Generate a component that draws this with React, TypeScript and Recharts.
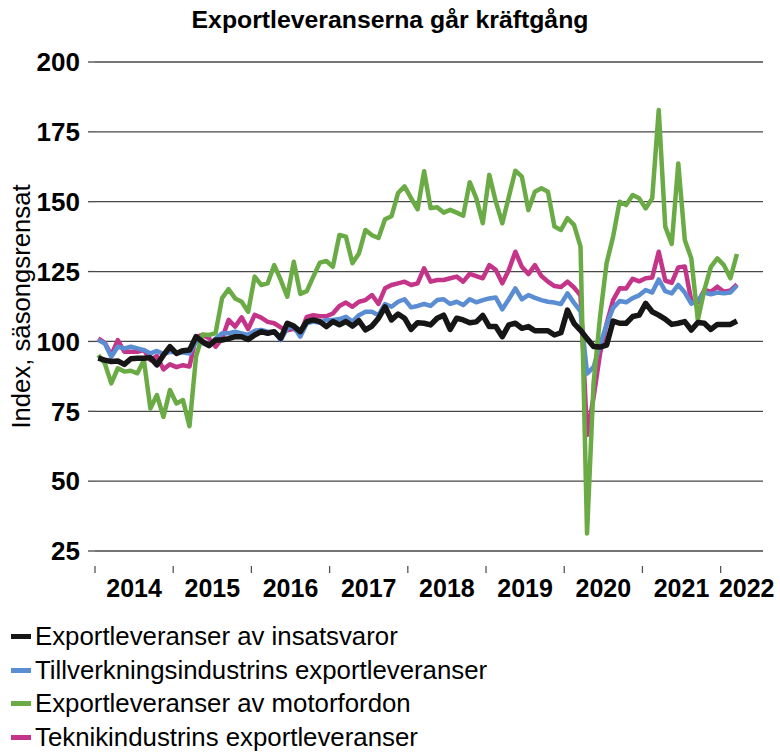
import React from 'react';
import { LineChart, Line, XAxis, YAxis, CartesianGrid, Label } from 'recharts';

const FONT = "'Liberation Sans', Arial, Helvetica, sans-serif";

const chartTitle = 'Exportleveranserna går kräftgång';
const yAxisTitle = 'Index, säsongsrensat';
const yearLabels = ['2014', '2015', '2016', '2017', '2018', '2019', '2020', '2021', '2022'];
const yTicks = [25, 50, 75, 100, 125, 150, 175, 200];

// Monthly values, Jan 2014 – Mar 2022
const insatsvaror = [
  94, 93.3, 92.8, 93, 91.8, 93.8, 94, 94, 94.2, 91.6,
  95.1, 98.1, 95.7, 96.7, 96.9, 101.7, 99.9, 98.5, 100.5, 100.5,
  101, 101.7, 101.7, 100.7, 102.3, 103.5, 102.9, 103.5, 101.1, 106.5,
  105.5, 103.5, 107.1, 107.7, 107.1, 105.3, 107.1, 106, 107.1, 105.5,
  107.4, 104.1, 105.5, 108.3, 112.4, 107.7, 109.8, 108.3, 104.3, 106.7,
  106.5, 105.9, 108.3, 109.4, 104.3, 108.3, 107.7, 106.7, 107, 109.3,
  105.3, 105.3, 101.7, 105.9, 106.5, 104.7, 105.3, 103.8, 103.8, 103.8,
  102.3, 103.1, 111.2, 106.5, 104, 101, 98.2, 98, 98.7, 107.3,
  106.5, 106.5, 108.9, 109.4, 113.6, 110.6, 109.4, 108, 106.1, 106.5,
  107.1, 104.1, 106.8, 106.5, 104.3, 106.1, 106.1, 106.1, 107.3,
];

const tillverkning = [
  100.5, 99.3, 94.5, 98.1, 97.5, 98.1, 97.5, 96.9, 95.7, 96.6,
  95.5, 96.3, 96, 96, 95.7, 99.9, 99.3, 98.5, 101, 102.9,
  102.9, 103.5, 102.9, 102.3, 103.8, 104.1, 103.5, 103.5, 100.5, 104.7,
  105.3, 101.7, 106.5, 107.1, 106.7, 107.7, 107.7, 108, 108.8, 107.1,
  109.4, 110.6, 110.6, 109.4, 113.4, 112.4, 114.2, 115.1, 112.2, 112.7,
  113.4, 112.7, 114.8, 115.1, 113.4, 114.2, 113, 115.1, 114, 114.8,
  115.4, 115.7, 111.5, 115.1, 119, 115.1, 116.6, 115.6, 114.8, 114.2,
  113.9, 113.4, 117.2, 113.8, 110.8, 88.5, 90.8, 98.8, 106, 112,
  114.5, 114, 115.5, 116.5, 118.4, 117.5, 122.2, 118, 117.2, 120.2,
  117.5, 113.5, 114.7, 117.5, 116.9, 117.5, 117.2, 117.5, 120,
];

const motorfordon = [
  95.1, 92.2, 85, 90.4, 89.2, 89.5, 88.6, 93.3, 76, 80.8,
  73, 82.6, 77.8, 79, 69.7, 94.5, 102.5, 102.3, 103, 115.5,
  118.7, 115.4, 114.2, 110.6, 123.2, 120.2, 120.8, 127.3, 122, 116,
  128.5, 117, 118, 123.2, 128.2, 128.8, 126.7, 138.1, 137.5, 128,
  131.5, 139.9, 138, 137, 143.7, 144.8, 153.1, 155.5, 151.3, 147.3,
  160.9, 147.7, 148, 146.1, 147.1, 146.1, 145, 157, 151.3, 142.3,
  159.6, 150, 142.3, 151.8, 161.1, 159, 147, 153.6, 154.8, 153.6,
  141.1, 139.9, 144.1, 141.7, 133.9, 31.3, 85, 108.8, 128, 137.5,
  150, 148.8, 152.4, 151.2, 147.6, 151.2, 182.8, 141.1, 134.9, 163.7,
  136.3, 129.7, 107.7, 118.4, 126.7, 129.7, 127.3, 122.6, 131.3,
];

const teknik = [
  101.1, 99.5, 95.1, 100.5, 96.3, 96.3, 96.3, 96.9, 93.3, 94.8,
  90, 91.8, 90.8, 91.5, 91, 101.7, 102.3, 101.1, 98.1, 101,
  107.7, 105.3, 108.6, 104.4, 109.5, 108.5, 107, 106.5, 105, 104,
  104.5, 103, 108.8, 109.4, 109, 109, 110, 112.7, 113.9, 112.4,
  114.2, 114.8, 116.6, 113.4, 119, 120.2, 120.8, 121.4, 120.2, 120.8,
  126.2, 121.4, 122, 122, 122.6, 123.2, 121.4, 124.2, 123.4, 122.6,
  127.3, 125.6, 120.8, 125.6, 132.1, 126.7, 124.1, 127.3, 123.4, 121.4,
  119.8, 119.5, 121.4, 119.3, 116.5, 66.5, 80, 95.7, 106.3, 114.8,
  119, 118.9, 122.4, 121.5, 122.6, 122.9, 132.1, 121.8, 121, 126.5,
  126.8, 114.5, 114, 118.4, 117.8, 119.6, 117.8, 118.2, 120.4,
];

const seriesDefs = [
  { key: 'insatsvaror', name: 'Exportleveranser av insatsvaror', color: '#161616', width: 5.5, values: insatsvaror },
  { key: 'tillverkning', name: 'Tillverkningsindustrins exportleveranser', color: '#5b8dd3', width: 4.5, values: tillverkning },
  { key: 'motorfordon', name: 'Exportleveranser av motorfordon', color: '#6aab46', width: 4.5, values: motorfordon },
  { key: 'teknik', name: 'Teknikindustrins exportleveranser', color: '#c4358a', width: 4.5, values: teknik },
];
// drawing order (last on top)
const drawOrder = ['teknik', 'tillverkning', 'motorfordon', 'insatsvaror'];

const X_MAX = 102.5; // months shown on the axis
const yearTicks = yearLabels.map((_, k) => k * 12);

const data = insatsvaror.map((_, i) => {
  const row: Record<string, number | string> = {
    t: i + 0.5,
    month: `${2014 + Math.floor(i / 12)}-${String((i % 12) + 1).padStart(2, '0')}`,
  };
  seriesDefs.forEach((s) => {
    row[s.key] = s.values[i];
  });
  return row;
});

const CHART_W = 780;
const CHART_H = 754;
const MARGIN = { top: 62, right: 17, bottom: 143, left: 0 };
const Y_AXIS_W = 95;
const X_AXIS_H = 60;
const PLOT_W = CHART_W - MARGIN.left - MARGIN.right - Y_AXIS_W;
const MONTH_PX = PLOT_W / X_MAX;

function YearTick(props: any) {
  const { x, y, payload } = props;
  const k = Math.round(payload.value / 12);
  const half = k === yearLabels.length - 1 ? 4 : 6;
  return (
    <g>
      <line x1={x} x2={x} y1={y + 15} y2={y + 22} stroke="#555" strokeWidth={1.3} />
      <text
        x={x + half * MONTH_PX}
        y={y + 37}
        textAnchor="middle"
        dominantBaseline="central"
        fontSize={25}
        fontWeight="bold"
        fill="#000"
        fontFamily={FONT}
      >
        {yearLabels[k]}
      </text>
    </g>
  );
}

function YTitle(props: any) {
  const vb = props.viewBox || { x: 0, y: 62, width: 95, height: 489 };
  const cx = vb.x + 21;
  const cy = vb.y + vb.height / 2;
  return (
    <text
      x={cx}
      y={cy}
      transform={`rotate(-90 ${cx} ${cy})`}
      textAnchor="middle"
      dominantBaseline="central"
      fontSize={25.7}
      fill="#000"
      fontFamily={FONT}
    >
      {yAxisTitle}
    </text>
  );
}

export default function App() {
  return (
    <div style={{ position: 'absolute', left: 0, top: 0, width: CHART_W, height: CHART_H, background: '#fff', fontFamily: FONT }}>
      <div
        style={{
          position: 'absolute',
          top: 5,
          left: 0,
          width: CHART_W,
          textAlign: 'center',
          fontSize: 24.8,
          lineHeight: '29px',
          fontWeight: 'bold',
          color: '#000',
        }}
      >
        {chartTitle}
      </div>
      <LineChart width={CHART_W} height={CHART_H} data={data} margin={MARGIN}>
        <CartesianGrid vertical={false} stroke="#474747" strokeWidth={1.3} />
        <XAxis
          dataKey="t"
          type="number"
          domain={[0, X_MAX]}
          ticks={yearTicks}
          interval={0}
          height={X_AXIS_H}
          axisLine={false}
          tickLine={false}
          tickSize={0}
          tickMargin={0}
          tick={<YearTick />}
          allowDataOverflow
        />
        <YAxis
          type="number"
          domain={[25, 200]}
          ticks={yTicks}
          interval={0}
          width={Y_AXIS_W}
          axisLine={false}
          tickLine={{ stroke: '#474747', strokeWidth: 1.3 }}
          tickSize={7}
          tickMargin={8}
          tick={{ fontSize: 26, fontWeight: 'bold', fill: '#000', fontFamily: FONT }}
          allowDataOverflow
        >
          <Label content={<YTitle />} />
        </YAxis>
        {drawOrder.map((k) => {
          const s = seriesDefs.find((d) => d.key === k)!;
          return (
            <Line
              key={s.key}
              type="linear"
              dataKey={s.key}
              name={s.name}
              stroke={s.color}
              strokeWidth={s.width}
              strokeLinejoin="round"
              dot={false}
              activeDot={false}
              isAnimationActive={false}
            />
          );
        })}
      </LineChart>
      <div style={{ position: 'absolute', left: 11, top: 620 }}>
        {seriesDefs.map((s) => (
          <div key={s.key} style={{ display: 'flex', alignItems: 'center', height: 33.6, fontSize: 25.8, color: '#000' }}>
            <span style={{ display: 'inline-block', width: 20, height: 5, background: s.color, marginRight: 4 }} />
            <span>{s.name}</span>
          </div>
        ))}
      </div>
    </div>
  );
}
